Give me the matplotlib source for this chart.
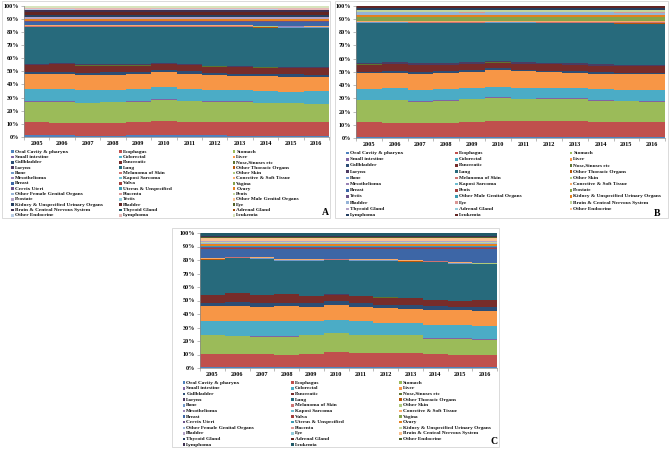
import numpy as np
import matplotlib
matplotlib.use("Agg")
import matplotlib.pyplot as plt
from matplotlib.patches import Rectangle

W, H = 669, 455

years = ['2005', '2006', '2007', '2008', '2009', '2010',
         '2011', '2012', '2013', '2014', '2015', '2016']
pct_ticks = [0, 10, 20, 30, 40, 50, 60, 70, 80, 90, 100]

# Excel 2010 series colours, in series order
palette = ['#4F81BD', '#C0504D', '#9BBB59', '#8064A2', '#4BACC6', '#F79646',
           '#2C4D75', '#772C2A', '#5F7530', '#4D3B62', '#276A7C', '#B65708',
           '#729ACA', '#CD7371', '#AFC97A', '#9983B5', '#6FBDD1', '#F9AB6B',
           '#3D66A6', '#A33F3C', '#86A34A', '#6A5189', '#3C9AB2', '#E4801F',
           '#95B3D7', '#D99795', '#C3D69B', '#B3A2C7', '#93CDDD', '#FAC090',
           '#254061', '#632523', '#4F6228', '#3F3151', '#215968', '#984807',
           '#B9CDE5', '#E6B9B8', '#D7E4BD']

common_sites = ['Oral Cavity & pharynx', 'Esophagus', 'Stomach', 'Small intestine',
                'Colorectal', 'Liver', 'Gallbladder', 'Pancreatic', 'Nose,Sinuses etc',
                'Larynx', 'Lung', 'Other Thoracic Organs', 'Bone', 'Melanoma of Skin',
                'Other Skin', 'Mesothelioma', 'Kaposi Sarcoma', 'Conective & Soft Tissue']

names_a = common_sites + ['Breast', 'Vulva', 'Vagina', 'Cervix Uteri', 'Uterus & Unspecified',
                          'Ovary', 'Other Female Genital Organs', 'Placenta', 'Penis', 'Prostate',
                          'Testis', 'Other Male Genital Organs', 'Kidney & Unspecified Urinary Organs',
                          'Bladder', 'Eye', 'Brain & Central Nervous System', 'Thyroid Gland',
                          'Adrenal Gland', 'Other Endocrine', 'Lymphoma', 'Leukemia']
names_b = common_sites + ['Breast', 'Penis', 'Prostate', 'Testis', 'Other Male Genital Organs',
                          'Kidney & Unspecified Urinary Organs', 'Bladder', 'Eye',
                          'Brain & Central Nervous System', 'Thyroid Gland', 'Adrenal Gland',
                          'Other Endocrine', 'Lymphoma', 'Leukemia']
names_c = common_sites + ['Breast', 'Vulva', 'Vagina', 'Cervix Uteri', 'Uterus & Unspecified',
                          'Ovary', 'Other Female Genital Organs', 'Placenta',
                          'Kidney & Unspecified Urinary Organs', 'Bladder', 'Eye',
                          'Brain & Central Nervous System', 'Thyroid Gland', 'Adrenal Gland',
                          'Other Endocrine', 'Lymphoma', 'Leukemia']

# A: both sexes (% of total)
vals_a = [
    [1.2, 1.2, 1.1, 1.1, 1.2, 1.2, 1.2, 1.2, 1.1, 1.1, 1.1, 1.1],
    [10.3, 9.6, 9.7, 9.7, 10.1, 10.8, 10.6, 10.6, 10.7, 10.1, 10.1, 10.1],
    [15.5, 16.2, 15.2, 15.7, 15.7, 16.5, 15.7, 15.2, 15.2, 14.8, 14.3, 13.8],
    [0.3, 0.3, 0.3, 0.3, 0.3, 0.3, 0.3, 0.3, 0.3, 0.3, 0.3, 0.3],
    [9.2, 9.2, 9.2, 9.2, 9.2, 9.2, 9.2, 8.7, 8.7, 8.7, 8.7, 9.2],
    [11.5, 11.5, 11.5, 11.5, 11.5, 11.5, 11.5, 11.5, 11.0, 11.5, 11.5, 11.0],
    [1.8, 1.9, 1.8, 1.8, 1.8, 1.8, 1.8, 1.7, 1.7, 1.7, 1.6, 1.6],
    [5.2, 5.6, 5.7, 5.2, 4.7, 4.7, 4.7, 4.8, 4.8, 4.8, 4.9, 4.9],
    [0.2, 0.2, 0.2, 0.2, 0.2, 0.2, 0.2, 0.2, 0.2, 0.2, 0.2, 0.2],
    [0.6, 0.6, 0.6, 0.6, 0.6, 0.6, 0.6, 0.6, 0.6, 0.6, 0.6, 0.6],
    [28.2, 27.7, 28.2, 28.2, 28.2, 27.2, 28.2, 29.2, 29.7, 29.7, 29.7, 29.7],
    [0.2, 0.2, 0.2, 0.2, 0.2, 0.2, 0.2, 0.2, 0.2, 0.2, 0.2, 0.2],
    [0.3, 0.3, 0.3, 0.3, 0.3, 0.3, 0.3, 0.3, 0.3, 0.3, 0.3, 0.3],
    [0.3, 0.3, 0.3, 0.3, 0.3, 0.3, 0.3, 0.3, 0.3, 0.3, 0.3, 0.3],
    [0.2, 0.2, 0.2, 0.2, 0.2, 0.2, 0.2, 0.2, 0.2, 0.2, 0.2, 0.2],
    [0.1, 0.1, 0.1, 0.1, 0.1, 0.1, 0.1, 0.1, 0.1, 0.1, 0.1, 0.1],
    [0.05, 0.05, 0.05, 0.05, 0.05, 0.05, 0.05, 0.05, 0.05, 0.05, 0.05, 0.05],
    [0.4, 0.4, 0.4, 0.4, 0.4, 0.4, 0.4, 0.4, 0.4, 0.4, 0.4, 0.4],
    [2.4, 2.4, 2.5, 2.5, 2.5, 2.5, 2.5, 2.6, 2.6, 2.6, 2.7, 2.7],
    [0.05, 0.05, 0.05, 0.05, 0.05, 0.05, 0.05, 0.05, 0.05, 0.05, 0.05, 0.05],
    [0.05, 0.05, 0.05, 0.05, 0.05, 0.05, 0.05, 0.05, 0.05, 0.05, 0.05, 0.05],
    [0.6, 0.6, 0.6, 0.6, 0.6, 0.6, 0.6, 0.6, 0.6, 0.6, 0.6, 0.6],
    [0.5, 0.5, 0.5, 0.5, 0.5, 0.5, 0.5, 0.5, 0.5, 0.5, 0.5, 0.5],
    [1.2, 1.2, 1.2, 1.2, 1.2, 1.2, 1.2, 1.2, 1.2, 1.2, 1.2, 1.2],
    [0.05, 0.05, 0.05, 0.05, 0.05, 0.05, 0.05, 0.05, 0.05, 0.05, 0.05, 0.05],
    [0.01, 0.01, 0.01, 0.01, 0.01, 0.01, 0.01, 0.01, 0.01, 0.01, 0.01, 0.01],
    [0.05, 0.05, 0.05, 0.05, 0.05, 0.05, 0.05, 0.05, 0.05, 0.05, 0.05, 0.05],
    [1.6, 1.6, 1.6, 1.6, 1.6, 1.6, 1.6, 1.6, 1.6, 1.6, 1.6, 1.6],
    [0.1, 0.1, 0.1, 0.1, 0.1, 0.1, 0.1, 0.1, 0.1, 0.1, 0.1, 0.1],
    [0.05, 0.05, 0.05, 0.05, 0.05, 0.05, 0.05, 0.05, 0.05, 0.05, 0.05, 0.05],
    [1.2, 1.2, 1.2, 1.2, 1.2, 1.2, 1.2, 1.2, 1.2, 1.2, 1.2, 1.2],
    [2.2, 2.2, 2.2, 2.2, 2.2, 2.2, 2.2, 2.2, 2.2, 2.3, 2.3, 2.3],
    [0.05, 0.05, 0.05, 0.05, 0.05, 0.05, 0.05, 0.05, 0.05, 0.05, 0.05, 0.05],
    [1.5, 1.5, 1.5, 1.5, 1.5, 1.5, 1.5, 1.5, 1.5, 1.5, 1.5, 1.5],
    [0.3, 0.3, 0.3, 0.3, 0.3, 0.3, 0.3, 0.3, 0.3, 0.3, 0.3, 0.3],
    [0.05, 0.05, 0.05, 0.05, 0.05, 0.05, 0.05, 0.05, 0.05, 0.05, 0.05, 0.05],
    [0.1, 0.1, 0.1, 0.1, 0.1, 0.1, 0.1, 0.1, 0.1, 0.1, 0.1, 0.1],
    [1.1, 1.1, 1.1, 1.1, 1.1, 1.1, 1.1, 1.1, 1.1, 1.1, 1.1, 1.1],
    [1.8, 1.8, 1.8, 1.8, 1.8, 1.8, 1.8, 1.8, 1.8, 1.8, 1.8, 1.8],
]

# B: males
vals_b = [
    [1.0, 1.0, 1.0, 1.0, 1.0, 1.0, 1.0, 1.0, 1.0, 1.0, 1.0, 1.0],
    [10.8, 10.5, 10.5, 10.5, 11.3, 12.0, 11.8, 11.8, 11.8, 11.3, 11.3, 11.3],
    [16.7, 17.0, 16.0, 16.5, 16.7, 17.5, 16.7, 16.7, 16.7, 15.7, 15.2, 14.7],
    [0.3, 0.3, 0.3, 0.3, 0.3, 0.3, 0.3, 0.3, 0.3, 0.3, 0.3, 0.3],
    [8.2, 8.7, 8.7, 8.7, 8.2, 8.2, 8.2, 7.7, 7.7, 8.2, 8.2, 8.2],
    [12.0, 12.0, 12.0, 12.0, 12.0, 12.5, 12.5, 12.0, 11.5, 11.5, 11.5, 12.0],
    [1.3, 1.3, 1.3, 1.3, 1.3, 1.3, 1.3, 1.3, 1.3, 1.3, 1.3, 1.3],
    [5.2, 5.2, 5.2, 4.7, 4.7, 4.2, 4.2, 4.7, 4.7, 4.7, 4.7, 4.7],
    [0.2, 0.2, 0.2, 0.2, 0.2, 0.2, 0.2, 0.2, 0.2, 0.2, 0.2, 0.2],
    [1.0, 1.0, 1.0, 1.0, 1.0, 1.0, 1.0, 1.0, 1.0, 1.0, 1.0, 1.0],
    [30.3, 29.8, 30.3, 30.3, 29.3, 28.8, 29.8, 29.8, 30.3, 30.8, 30.8, 30.8],
    [0.2, 0.2, 0.2, 0.2, 0.2, 0.2, 0.2, 0.2, 0.2, 0.2, 0.2, 0.2],
    [0.3, 0.3, 0.3, 0.3, 0.3, 0.3, 0.3, 0.3, 0.3, 0.3, 0.3, 0.3],
    [0.3, 0.3, 0.3, 0.3, 0.3, 0.3, 0.3, 0.3, 0.3, 0.3, 0.3, 0.3],
    [0.2, 0.2, 0.2, 0.2, 0.2, 0.2, 0.2, 0.2, 0.2, 0.2, 0.2, 0.2],
    [0.1, 0.1, 0.1, 0.1, 0.1, 0.1, 0.1, 0.1, 0.1, 0.1, 0.1, 0.1],
    [0.05, 0.05, 0.05, 0.05, 0.05, 0.05, 0.05, 0.05, 0.05, 0.05, 0.05, 0.05],
    [0.4, 0.4, 0.4, 0.4, 0.4, 0.4, 0.4, 0.4, 0.4, 0.4, 0.4, 0.4],
    [0.05, 0.05, 0.05, 0.05, 0.05, 0.05, 0.05, 0.05, 0.05, 0.05, 0.05, 0.05],
    [0.05, 0.05, 0.05, 0.05, 0.05, 0.05, 0.05, 0.05, 0.05, 0.05, 0.05, 0.05],
    [3.0, 3.0, 3.0, 3.0, 3.0, 3.0, 3.0, 3.0, 3.0, 3.1, 3.1, 3.1],
    [0.2, 0.2, 0.2, 0.2, 0.2, 0.2, 0.2, 0.2, 0.2, 0.2, 0.2, 0.2],
    [0.05, 0.05, 0.05, 0.05, 0.05, 0.05, 0.05, 0.05, 0.05, 0.05, 0.05, 0.05],
    [1.0, 1.0, 1.0, 1.0, 1.0, 1.0, 1.0, 1.0, 1.0, 1.0, 1.0, 1.0],
    [2.2, 2.2, 2.2, 2.2, 2.2, 2.2, 2.2, 2.2, 2.2, 2.2, 2.2, 2.2],
    [0.05, 0.05, 0.05, 0.05, 0.05, 0.05, 0.05, 0.05, 0.05, 0.05, 0.05, 0.05],
    [1.5, 1.5, 1.5, 1.5, 1.5, 1.5, 1.5, 1.5, 1.5, 1.5, 1.5, 1.5],
    [0.2, 0.2, 0.2, 0.2, 0.2, 0.2, 0.2, 0.2, 0.2, 0.2, 0.2, 0.2],
    [0.05, 0.05, 0.05, 0.05, 0.05, 0.05, 0.05, 0.05, 0.05, 0.05, 0.05, 0.05],
    [0.1, 0.1, 0.1, 0.1, 0.1, 0.1, 0.1, 0.1, 0.1, 0.1, 0.1, 0.1],
    [1.4, 1.4, 1.4, 1.4, 1.4, 1.4, 1.4, 1.4, 1.4, 1.4, 1.4, 1.4],
    [1.8, 1.8, 1.8, 1.8, 1.8, 1.8, 1.8, 1.8, 1.8, 1.8, 1.8, 1.8],
]

# C: females
vals_c = [
    [1.0, 1.0, 1.0, 1.0, 1.0, 1.0, 1.0, 1.0, 1.0, 1.0, 1.0, 1.0],
    [9.5, 9.0, 9.0, 8.5, 9.0, 10.5, 10.0, 10.0, 10.0, 9.0, 8.5, 8.5],
    [13.5, 13.5, 13.0, 13.5, 14.0, 14.0, 13.0, 13.0, 13.0, 11.5, 12.0, 11.5],
    [0.3, 0.3, 0.3, 0.3, 0.3, 0.3, 0.3, 0.3, 0.3, 0.3, 0.3, 0.3],
    [10.7, 10.7, 11.2, 11.7, 10.7, 9.7, 10.2, 9.2, 9.2, 10.2, 9.7, 9.7],
    [10.5, 11.5, 10.5, 10.5, 10.0, 11.0, 10.5, 10.5, 10.0, 11.0, 11.0, 11.0],
    [2.8, 2.8, 2.8, 2.8, 2.8, 2.8, 2.8, 2.8, 2.8, 2.8, 2.8, 2.8],
    [5.2, 6.2, 5.7, 6.2, 5.2, 4.7, 5.2, 5.2, 5.2, 4.2, 4.2, 5.2],
    [0.1, 0.1, 0.1, 0.1, 0.1, 0.1, 0.1, 0.1, 0.1, 0.1, 0.1, 0.1],
    [0.2, 0.2, 0.2, 0.2, 0.2, 0.2, 0.2, 0.2, 0.2, 0.2, 0.2, 0.2],
    [26.2, 25.7, 26.7, 24.2, 25.7, 25.2, 25.7, 26.7, 26.7, 27.7, 27.2, 26.2],
    [0.1, 0.1, 0.1, 0.1, 0.1, 0.1, 0.1, 0.1, 0.1, 0.1, 0.1, 0.1],
    [0.3, 0.3, 0.3, 0.3, 0.3, 0.3, 0.3, 0.3, 0.3, 0.3, 0.3, 0.3],
    [0.2, 0.2, 0.2, 0.2, 0.2, 0.2, 0.2, 0.2, 0.2, 0.2, 0.2, 0.2],
    [0.1, 0.1, 0.1, 0.1, 0.1, 0.1, 0.1, 0.1, 0.1, 0.1, 0.1, 0.1],
    [0.05, 0.05, 0.05, 0.05, 0.05, 0.05, 0.05, 0.05, 0.05, 0.05, 0.05, 0.05],
    [0.05, 0.05, 0.05, 0.05, 0.05, 0.05, 0.05, 0.05, 0.05, 0.05, 0.05, 0.05],
    [0.3, 0.3, 0.3, 0.3, 0.3, 0.3, 0.3, 0.3, 0.3, 0.3, 0.3, 0.3],
    [7.0, 6.0, 6.5, 8.0, 8.0, 7.5, 8.0, 8.0, 8.5, 9.0, 10.0, 10.5],
    [0.1, 0.1, 0.1, 0.1, 0.1, 0.1, 0.1, 0.1, 0.1, 0.1, 0.1, 0.1],
    [0.05, 0.05, 0.05, 0.05, 0.05, 0.05, 0.05, 0.05, 0.05, 0.05, 0.05, 0.05],
    [1.0, 1.0, 1.0, 1.0, 1.0, 1.0, 1.0, 1.0, 1.0, 1.0, 1.0, 1.0],
    [0.8, 0.8, 0.8, 0.8, 0.8, 0.8, 0.8, 0.8, 0.8, 0.8, 0.8, 0.8],
    [1.8, 1.8, 1.8, 1.8, 1.8, 1.8, 1.8, 1.8, 1.8, 1.8, 1.8, 1.8],
    [0.1, 0.1, 0.1, 0.1, 0.1, 0.1, 0.1, 0.1, 0.1, 0.1, 0.1, 0.1],
    [0.02, 0.02, 0.02, 0.02, 0.02, 0.02, 0.02, 0.02, 0.02, 0.02, 0.02, 0.02],
    [0.8, 0.8, 0.8, 0.8, 0.8, 0.8, 0.8, 0.8, 0.8, 0.8, 0.8, 0.8],
    [0.9, 0.9, 0.9, 0.9, 0.9, 0.9, 0.9, 0.9, 0.9, 0.9, 0.9, 0.9],
    [0.05, 0.05, 0.05, 0.05, 0.05, 0.05, 0.05, 0.05, 0.05, 0.05, 0.05, 0.05],
    [2.0, 2.0, 2.0, 2.0, 2.0, 2.0, 2.0, 2.0, 2.0, 2.0, 2.0, 2.0],
    [0.5, 0.5, 0.5, 0.5, 0.5, 0.5, 0.5, 0.5, 0.5, 0.5, 0.5, 0.5],
    [0.05, 0.05, 0.05, 0.05, 0.05, 0.05, 0.05, 0.05, 0.05, 0.05, 0.05, 0.05],
    [0.15, 0.15, 0.15, 0.15, 0.15, 0.15, 0.15, 0.15, 0.15, 0.15, 0.15, 0.15],
    [1.2, 1.2, 1.2, 1.2, 1.2, 1.2, 1.2, 1.2, 1.2, 1.2, 1.2, 1.2],
    [2.0, 2.0, 2.0, 2.0, 2.0, 2.0, 2.0, 2.0, 2.0, 2.0, 2.0, 2.0],
]

SERIF = 'Liberation Serif'


def fx(x):
    return x / W


def fy(y):
    return 1 - y / H


def draw_panel(fig, names, vals, border, plot, legend, letter_pos, letter):
    # light grey chart-area frame
    x0, y0, x1, y1 = border
    fig.patches.append(Rectangle((fx(x0), fy(y1)), fx(x1 - x0), (y1 - y0) / H,
                                 transform=fig.transFigure, fill=False,
                                 ec='#d4d4d4', lw=0.6))
    l, t, r, b = plot
    ax = fig.add_axes([fx(l), fy(b), fx(r - l), (b - t) / H])

    data = np.array(vals, dtype=float)
    data = data / data.sum(axis=0) * 100  # 100% stacked
    edges = np.arange(len(years) + 1) - 0.5
    base = np.zeros(len(years))
    for i, row in enumerate(data):
        top = base + row
        ax.stairs(top, edges, baseline=base, fill=True, color=palette[i], lw=0)
        base = top

    ax.set_xlim(-0.5, len(years) - 0.5)
    ax.set_ylim(0, 100)
    ax.set_xticks(range(len(years)))
    ax.set_xticklabels(years)
    ax.set_xticks(edges, minor=True)
    ax.set_yticks(pct_ticks)
    ax.set_yticklabels([f'{p}%' for p in pct_ticks])
    for lab in ax.get_xticklabels() + ax.get_yticklabels():
        lab.set_fontfamily(SERIF)
        lab.set_fontweight('bold')
        lab.set_fontsize(4.4)
    ax.tick_params(axis='x', which='major', length=0, pad=3)
    ax.tick_params(axis='x', which='minor', length=2, color='#888888', width=0.4)
    ax.tick_params(axis='y', length=2, pad=1.5, color='#888888', width=0.4)
    for s in ['top', 'right']:
        ax.spines[s].set_visible(False)
    for s in ['left', 'bottom']:
        ax.spines[s].set_color('#888888')
        ax.spines[s].set_linewidth(0.5)

    # legend, filled row by row like Excel
    col_x, row_y0, row_dy = legend
    for i, name in enumerate(names):
        r, c = divmod(i, 3)
        x = col_x[c]
        y = row_y0 + r * row_dy
        fig.patches.append(Rectangle((fx(x - 1.3), fy(y + 1.3)), fx(2.6), 2.6 / H,
                                     transform=fig.transFigure, color=palette[i], lw=0))
        fig.text(fx(x + 2.4), fy(y), name, fontsize=3.8, fontweight='bold',
                 family=SERIF, va='center', ha='left', color='#111111')
    fig.text(fx(letter_pos[0]), fy(letter_pos[1]), letter, fontsize=7,
             fontweight='bold', family=SERIF, ha='center', va='center')


fig = plt.figure(figsize=(W / 100, H / 100), dpi=100)
fig.patch.set_facecolor('white')

draw_panel(fig, names_a, vals_a, (2, 1, 330, 218), (24, 5.7, 329, 137),
           ((12.5, 120.7, 234), 151.7, 5.3), (325, 212.5), 'A')
draw_panel(fig, names_b, vals_b, (335, 1, 668, 218), (356, 5.7, 665, 138),
           ((347.3, 456.7, 571), 153, 6.2), (657.5, 214), 'B')
draw_panel(fig, names_c, vals_c, (172, 228, 499, 447), (200, 233, 497, 368),
           ((184, 292.7, 400.7), 382.7, 5.64), (494, 441.5), 'C')

fig.savefig('out.png', dpi=100)
